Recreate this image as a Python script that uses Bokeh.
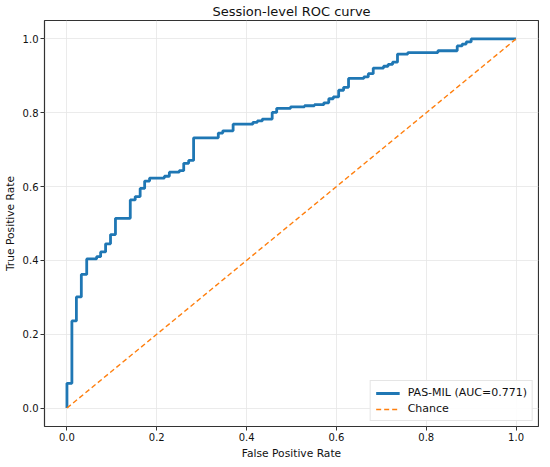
from bokeh.plotting import figure
from bokeh.models import FixedTicker, PrintfTickFormatter, Range1d, Legend, LegendItem
from bokeh.embed import file_html
from bokeh.resources import INLINE

# ROC curve vertices
fpr = [0, 0, 0.011, 0.011, 0.021, 0.021, 0.032, 0.032, 0.044, 0.044, 0.066, 0.066,
       0.075, 0.075, 0.086, 0.086, 0.097, 0.097, 0.108, 0.108, 0.141, 0.141, 0.152, 0.152,
       0.163, 0.163, 0.173, 0.173, 0.184, 0.184, 0.217, 0.217, 0.228, 0.228, 0.25, 0.25,
       0.26, 0.26, 0.271, 0.271, 0.282, 0.282, 0.337, 0.337, 0.347, 0.347, 0.37, 0.37,
       0.414, 0.414, 0.424, 0.424, 0.435, 0.435, 0.457, 0.457, 0.467, 0.467, 0.498, 0.498,
       0.529, 0.529, 0.551, 0.551, 0.572, 0.572, 0.583, 0.583, 0.593, 0.593, 0.605, 0.605,
       0.616, 0.616, 0.627, 0.627, 0.661, 0.661, 0.671, 0.671, 0.682, 0.682, 0.705, 0.705,
       0.715, 0.715, 0.725, 0.725, 0.736, 0.736, 0.759, 0.759, 0.826, 0.826, 0.869, 0.869,
       0.880, 0.880, 0.889, 0.889, 0.90, 0.90, 1.0]
tpr = [0, 0.067, 0.067, 0.236, 0.236, 0.301, 0.301, 0.362, 0.362, 0.404, 0.404, 0.41,
       0.41, 0.423, 0.423, 0.445, 0.445, 0.470, 0.470, 0.514, 0.514, 0.564, 0.564, 0.573,
       0.573, 0.595, 0.595, 0.615, 0.615, 0.623, 0.623, 0.628, 0.628, 0.639, 0.639, 0.643,
       0.643, 0.663, 0.663, 0.671, 0.671, 0.732, 0.732, 0.745, 0.745, 0.751, 0.751, 0.769,
       0.769, 0.774, 0.774, 0.778, 0.778, 0.783, 0.783, 0.801, 0.801, 0.812, 0.812, 0.816,
       0.816, 0.819, 0.819, 0.822, 0.822, 0.827, 0.827, 0.838, 0.838, 0.843, 0.843, 0.861,
       0.861, 0.869, 0.869, 0.893, 0.893, 0.897, 0.897, 0.906, 0.906, 0.921, 0.921, 0.926,
       0.926, 0.931, 0.931, 0.937, 0.937, 0.959, 0.959, 0.963, 0.963, 0.968, 0.968, 0.981,
       0.981, 0.986, 0.986, 0.992, 0.992, 1.0, 1.0]
chance_x = [0, 1]
chance_y = [0, 1]
ticks = [0.0, 0.2, 0.4, 0.6, 0.8, 1.0]
auc_label = "PAS-MIL (AUC=0.771)"

FONT = "DejaVu Sans"

p = figure(frame_width=494, frame_height=406, output_backend="svg", toolbar_location=None,
           x_range=Range1d(-0.05, 1.05), y_range=Range1d(-0.05, 1.05),
           title="Session-level ROC curve",
           min_border_left=0, min_border_right=1, min_border_top=0, min_border_bottom=0)
p.background_fill_color = "white"
p.border_fill_color = "white"
p.outline_line_color = "#333333"
p.outline_line_width = 1.2

p.title.text_font = FONT
p.title.text_font_size = "13px"
p.title.text_font_style = "normal"
p.title.align = "center"
p.title.text_color = "#111111"
p.title.standoff = 3
p.title.offset = 0

for ax in (p.xaxis, p.yaxis):
    ax.ticker = FixedTicker(ticks=ticks)
    ax.formatter = PrintfTickFormatter(format="%.1f")
    ax.major_label_text_font = FONT
    ax.major_label_text_font_size = "10px"
    ax.major_label_text_color = "#111111"
    ax.axis_label_text_font = FONT
    ax.axis_label_text_font_size = "10.7px"
    ax.axis_label_text_font_style = "normal"
    ax.axis_label_text_color = "#111111"
    ax.axis_line_color = None
    ax.major_tick_line_color = "#333333"
    ax.major_tick_out = 4
    ax.major_tick_in = 0
    ax.minor_tick_line_color = None
    ax.major_label_standoff = 2

p.xaxis.axis_label_standoff = 3
p.yaxis.axis_label_standoff = 3
p.xaxis.axis_label = "False Positive Rate"
p.yaxis.axis_label = "True Positive Rate"

p.grid.grid_line_color = "#e6e6e6"
p.grid.grid_line_width = 0.8
p.xgrid.ticker = FixedTicker(ticks=ticks)
p.ygrid.ticker = FixedTicker(ticks=ticks)

r1 = p.line(fpr, tpr, line_color="#1f77b4", line_width=2.8)
r2 = p.line(chance_x, chance_y, line_color="#ff7f0e", line_width=1.4, line_dash="5 3")

legend = Legend(items=[LegendItem(label=auc_label, renderers=[r1]),
                       LegendItem(label="Chance", renderers=[r2])],
                location="bottom_right")
legend.label_text_font = FONT
legend.label_text_font_size = "11px"
legend.label_text_color = "#111111"
legend.border_line_color = "#cccccc"
legend.border_line_width = 1
legend.background_fill_alpha = 0.9
legend.glyph_width = 24
legend.glyph_height = 12
legend.label_height = 12
legend.spacing = 3
legend.padding = 5
legend.margin = 5
legend.label_standoff = 8
p.add_layout(legend)

open("out.html", "w").write(file_html(p, INLINE))
